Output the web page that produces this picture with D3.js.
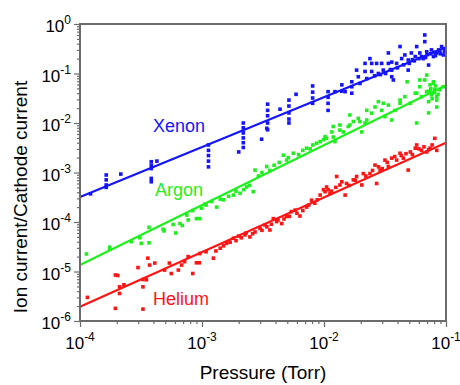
<!DOCTYPE html>
<html><head><meta charset="utf-8">
<script src="https://cdn.jsdelivr.net/npm/d3@7"></script>
<style>
body{margin:0;background:#fff;}
text{font-family:"Liberation Sans", Arial, Helvetica, sans-serif;}
</style>
</head><body>
<svg id="c" width="460" height="385"></svg>
<script>
// ---- data: [pressure (Torr), ion current / cathode current] ----
const xenon = [
[1.22e-4,3.7e-4],
[1.64e-4,8.9e-4],[1.64e-4,7.1e-4],[1.64e-4,5.6e-4],[1.64e-4,5.0e-4],
[2.16e-4,9.3e-4],
[3.84e-4,1.65e-3],[3.84e-4,1.4e-3],[3.84e-4,1.2e-3],[3.84e-4,7.6e-4],[3.84e-4,6.5e-4],[4.27e-4,1.7e-3],
[1.13e-3,3.6e-3],[1.13e-3,2.8e-3],[1.13e-3,2.2e-3],[1.13e-3,1.7e-3],[1.13e-3,1.3e-3],
[2.18e-3,1.0e-2],[2.18e-3,8.0e-3],[2.18e-3,6.3e-3],[2.18e-3,5.0e-3],[2.18e-3,4.0e-3],[2.18e-3,3.2e-3],[2.0e-3,2.6e-3],
[3.08e-3,4.7e-3],[3.4e-3,7.8e-3],
[3.45e-3,2.4e-2],[3.45e-3,1.8e-2],[3.45e-3,1.4e-2],[3.45e-3,1.0e-2],[3.45e-3,7.3e-3],
[4.36e-3,1.9e-2],
[5.16e-3,2.9e-2],[5.16e-3,2.2e-2],[5.16e-3,1.6e-2],[5.16e-3,1.2e-2],[5.16e-3,1.0e-2],
[5.9e-3,3.8e-2],
[8.07e-3,5.6e-2],[8.07e-3,4.2e-2],[8.07e-3,3.2e-2],[8.07e-3,2.5e-2],
[1.08e-2,4.3e-2],[1.08e-2,3.3e-2],[1.08e-2,2.5e-2],[1.08e-2,1.8e-2],
[1.23e-2,4.3e-2],[1.4e-2,5.9e-2],[1.4e-2,4.4e-2],[1.49e-2,4.3e-2],
[1.69e-2,6.8e-2],[1.69e-2,5.4e-2],[1.69e-2,4.0e-2],
[1.85e-2,0.117],[1.91e-2,8.6e-2],[1.97e-2,6.3e-2],
[2.17e-2,0.16],[2.17e-2,0.11],[2.24e-2,7.9e-2],
[2.38e-2,0.2],[2.46e-2,0.16],[2.46e-2,0.11],[2.6e-2,0.09],[2.9e-2,0.095],
[2.7e-2,0.16],[2.79e-2,0.1],[2.97e-2,0.16],[3.06e-2,0.117],[3.2e-2,0.1],[3.5e-2,0.12],
[3.37e-2,0.26],[3.37e-2,0.16],[3.59e-2,0.17],[3.59e-2,0.117],[3.59e-2,8.6e-2],[3.7e-2,7.4e-2],
[3.94e-2,0.16],[4.0e-2,0.13],[4.2e-2,0.35],[4.33e-2,0.2],[4.5e-2,0.15],[4.6e-2,0.237],[4.9e-2,0.187],[4.9e-2,0.117],
[5.0e-2,0.16],[5.2e-2,0.26],[5.5e-2,0.18],[5.6e-2,0.22],[5.75e-2,0.35],[6.0e-2,0.2],[6.1e-2,0.26],[6.3e-2,0.22],
[6.5e-2,0.2],[6.7e-2,0.6],[6.7e-2,0.44],[6.95e-2,0.275],[7.0e-2,0.24],[7.2e-2,0.148],[7.5e-2,0.25],
[7.6e-2,0.3],[7.9e-2,0.22],[8.0e-2,0.27],[8.4e-2,0.26],[8.7e-2,0.3],[8.9e-2,0.275],[9.0e-2,0.25],[9.2e-2,0.35],[9.5e-2,0.237],
[9.7e-2,0.28],[9.8e-2,0.31],[8.2e-2,0.23],[6.8e-2,0.21],[5.3e-2,0.19]
];
const argon = [
[1.13e-4,2.26e-5],[1.75e-4,3.1e-5],[1.75e-4,2.8e-5],[2.63e-4,4.0e-5],[3.09e-4,4.8e-5],[3.18e-4,3.7e-5],
[3.68e-4,7.8e-5],[3.68e-4,3.8e-5],[4.89e-4,6.6e-5],[4.8e-4,7.1e-5],[5.8e-4,8.9e-5],[6.1e-4,6.0e-5],
[6.6e-4,9.3e-5],[6.9e-4,8.5e-5],[7.5e-4,1.38e-4],[7.7e-4,1.1e-4],[8.4e-4,1.7e-4],[9.0e-4,1.17e-4],
[9.6e-4,1.17e-4],[9.9e-4,1.9e-4],[1.06e-3,2.3e-4],[1.08e-3,2.2e-4],[1.2e-3,2.6e-4],[1.32e-3,2.0e-4],
[1.41e-3,2.9e-4],[1.5e-3,2.8e-4],[1.65e-3,3.3e-4],[1.81e-3,3.5e-4],[1.9e-3,4.2e-4],[2.05e-3,3.8e-4],
[2.2e-3,4.5e-4],[2.32e-3,5.1e-4],[2.45e-3,5.5e-4],[2.63e-3,4.1e-4],[2.72e-3,1.12e-3],[2.9e-3,8.5e-4],
[3.1e-3,1.0e-3],[3.39e-3,1.32e-3],[3.6e-3,1.1e-3],[3.9e-3,1.4e-3],[4.3e-3,1.6e-3],[4.65e-3,2.24e-3],
[4.94e-3,1.78e-3],[5.1e-3,2.0e-3],[5.6e-3,2.45e-3],[6.2e-3,2.3e-3],[6.7e-3,2.8e-3],[7.2e-3,3.1e-3],
[7.7e-3,3.0e-3],[8.1e-3,3.6e-3],[8.7e-3,3.9e-3],[9.3e-3,4.2e-3],[9.9e-3,4.6e-3],[1.02e-2,5.3e-3],
[1.05e-2,4.9e-3],[1.16e-2,6.6e-3],[1.19e-2,5.2e-3],[1.19e-2,8.5e-3],[1.23e-2,4.2e-3],[1.35e-2,7.2e-3],
[1.35e-2,9.1e-3],[1.44e-2,6.6e-3],[1.58e-2,8.5e-3],[1.63e-2,9.1e-3],[1.63e-2,1.45e-2],[1.74e-2,1.07e-2],
[1.91e-2,1.24e-2],[1.97e-2,1.07e-2],[2.04e-2,6.6e-3],[2.17e-2,1.0e-2],[2.24e-2,1.15e-2],[2.24e-2,1.8e-2],
[2.46e-2,1.58e-2],[2.62e-2,2.1e-2],[2.79e-2,2.7e-2],[2.97e-2,1.8e-2],[3.06e-2,2.5e-2],[3.16e-2,1.35e-2],
[3.37e-2,2.3e-2],[3.59e-2,1.15e-2],[3.82e-2,1.8e-2],[4.2e-2,2.5e-2],[4.2e-2,2.9e-2],[4.6e-2,3.4e-2],
[4.8e-2,6.8e-2],[5.1e-2,2.5e-2],[5.6e-2,4.0e-2],[5.75e-2,4.0e-2],[5.75e-2,1.0e-2],[6.1e-2,5.4e-2],
[6.1e-2,7.4e-2],[6.3e-2,3.4e-2],[6.7e-2,7.4e-2],[6.95e-2,9.3e-2],[6.95e-2,4.3e-2],[7.2e-2,2.7e-2],
[7.2e-2,1.6e-2],[7.4e-2,5.9e-2],[7.6e-2,3.7e-2],[7.9e-2,6.8e-2],[7.9e-2,6.3e-2],[8.1e-2,4.7e-2],
[8.4e-2,2.9e-2],[8.4e-2,2.1e-2],[8.4e-2,3.4e-2],[8.9e-2,4.7e-2],[9.5e-2,5.4e-2],
[7.5e-2,4.9e-2],[7.7e-2,3.1e-2],[8.0e-2,4.1e-2],[8.6e-2,3.8e-2],[8.2e-2,5.6e-2],[7.3e-2,4.4e-2]
];
const helium = [
[1.15e-4,3.0e-6],[1.95e-4,1.8e-6],[1.95e-4,8.5e-6],[2.04e-4,8.3e-6],[2.11e-4,4.9e-6],[2.11e-4,3.6e-6],
[2.29e-4,5.4e-6],[2.99e-4,1.2e-5],[3.28e-4,6.9e-6],[3.28e-4,4.9e-6],[3.28e-4,1.74e-6],[3.5e-4,6.8e-6],
[3.6e-4,1.86e-5],[3.72e-4,1.35e-5],[4.1e-4,1.48e-5],[4.94e-4,1.07e-5],[5.4e-4,1.48e-5],[5.6e-4,9.1e-6],
[6.4e-4,1.07e-5],[6.8e-4,1.35e-5],[7.2e-4,1.58e-5],[7.7e-4,2.0e-5],[8.4e-4,9.1e-6],[9.0e-4,1.5e-5],
[9.5e-4,1.5e-5],[9.6e-4,2.3e-5],[1.08e-3,2.5e-5],[1.24e-3,1.86e-5],[1.3e-3,2.6e-5],[1.41e-3,2.95e-5],
[1.5e-3,3.3e-5],[1.59e-3,3.7e-5],[1.7e-3,3.9e-5],[1.81e-3,4.7e-5],[1.9e-3,4.2e-5],[2.0e-3,5.2e-5],
[2.1e-3,4.8e-5],[2.25e-3,5.5e-5],[2.3e-3,6.0e-5],[2.47e-3,5.0e-5],[2.6e-3,5.8e-5],[2.72e-3,6.3e-5],
[2.99e-3,7.4e-5],[3.1e-3,6.8e-5],[3.28e-3,8.7e-5],[3.4e-3,8.0e-5],[3.6e-3,6.9e-5],[3.7e-3,9.0e-5],
[3.84e-3,1.17e-4],[4.09e-3,1.02e-4],[4.2e-3,1.1e-4],[4.5e-3,9.3e-5],[4.7e-3,1.15e-4],[4.94e-3,1.29e-4],
[5.2e-3,1.3e-4],[5.4e-3,1.62e-4],[5.8e-3,1.74e-4],[6.0e-3,1.5e-4],[6.35e-3,1.32e-4],[6.7e-3,1.7e-4],
[7.2e-3,2.0e-4],[7.5e-3,2.2e-4],[7.9e-3,2.75e-4],[8.4e-3,2.4e-4],[8.8e-3,2.8e-4],[9.3e-3,3.5e-4],
[9.9e-3,4.5e-4],[1.02e-2,4.1e-4],[1.05e-2,5.1e-4],[1.08e-2,4.5e-4],[1.12e-2,3.8e-4],[1.15e-2,4.2e-4],
[1.25e-2,5.0e-4],[1.27e-2,8.3e-4],[1.35e-2,5.6e-4],[1.4e-2,6.5e-4],[1.49e-2,3.5e-4],[1.53e-2,6.0e-4],
[1.6e-2,5.5e-4],[1.74e-2,7.1e-4],[1.8e-2,7.0e-4],[1.85e-2,8.3e-4],[2.04e-2,5.6e-4],[2.1e-2,9.5e-4],
[2.2e-2,8.5e-4],[2.38e-2,9.5e-4],[2.5e-2,1.1e-3],[2.62e-2,1.41e-3],[2.7e-2,6.0e-4],[2.8e-2,1.3e-3],
[2.88e-2,1.12e-3],[3.0e-2,1.2e-3],[3.16e-2,1.78e-3],[3.3e-2,1.6e-3],[3.37e-2,1.32e-3],[3.59e-2,1.95e-3],
[3.8e-2,2.1e-3],[3.94e-2,1.78e-3],[4.2e-2,2.45e-3],[4.3e-2,2.2e-3],[4.47e-2,1.95e-3],[4.7e-2,2.4e-3],
[4.9e-2,1.12e-3],[5.1e-2,2.6e-3],[5.3e-2,2.3e-3],[5.6e-2,3.1e-3],[5.75e-2,3.6e-3],[6.0e-2,3.0e-3],
[6.3e-2,2.8e-3],[6.6e-2,3.3e-3],[6.95e-2,2.6e-3],[7.2e-2,2.9e-3],[7.4e-2,3.1e-3],[7.7e-2,3.6e-3],
[8.1e-2,4.9e-3],[8.4e-2,2.8e-3]
];
// fitted power-law lines, end points [pressure, ratio]
const xenonFit  = [[1e-4,3.2e-4],[1e-1,0.34]];
const argonFit  = [[1e-4,1.35e-5],[1e-1,0.058]];
const heliumFit = [[1e-4,1.95e-6],[1e-1,4.0e-3]];
const seriesNames = ["Xenon","Argon","Helium"];
const xTickExps = [-4,-3,-2,-1];
const yTickExps = [-6,-5,-4,-3,-2,-1,0];

// ---- layout ----
const colors = {Xenon:"#1414ff", Argon:"#1ef01e", Helium:"#ff1414"};
const L=80, R=446, T=24, B=321;
const svg = d3.select("#c");
const x = d3.scaleLog().domain([1e-4,1e-1]).range([L,R]);
const y = d3.scaleLog().domain([1e-6,1]).range([B,T]);

const majX = xTickExps.map(e=>Math.pow(10,e));
const majY = yTickExps.map(e=>Math.pow(10,e));
const minor = (exps)=>{const a=[];for(let i=0;i<exps.length-1;i++)for(let k=2;k<=9;k++)a.push(k*Math.pow(10,exps[i]));return a;};

const axisColor="#6b6b6b";
function styleAxis(g){g.select(".domain").remove();g.selectAll("line").attr("stroke",axisColor).attr("stroke-width",1.2);}
svg.append("g").attr("transform",`translate(0,${B})`).call(d3.axisBottom(x).tickValues(minor(xTickExps)).tickSize(3).tickFormat("")).call(styleAxis);
svg.append("g").attr("transform",`translate(0,${B})`).call(d3.axisBottom(x).tickValues(majX).tickSize(6).tickFormat("")).call(styleAxis);
svg.append("g").attr("transform",`translate(${L},0)`).call(d3.axisLeft(y).tickValues(minor(yTickExps)).tickSize(3).tickFormat("")).call(styleAxis);
svg.append("g").attr("transform",`translate(${L},0)`).call(d3.axisLeft(y).tickValues(majY).tickSize(6).tickFormat("")).call(styleAxis);

// tick labels
xTickExps.forEach(e=>{
  const t=svg.append("text").attr("x",x(Math.pow(10,e))).attr("y",B+28).attr("text-anchor","middle").attr("font-size",17).attr("fill","#000");
  t.append("tspan").text("10");
  t.append("tspan").attr("dy",-8).attr("font-size",12).text(e===0?"0":"-"+Math.abs(e));
});
yTickExps.forEach(e=>{
  const t=svg.append("text").attr("x",71).attr("y",y(Math.pow(10,e))+8).attr("text-anchor","end").attr("font-size",17).attr("fill","#000");
  t.append("tspan").text("10");
  t.append("tspan").attr("dy",-8).attr("font-size",12).text(e===0?"0":"-"+Math.abs(e));
});

// data
const data = {Xenon:xenon, Argon:argon, Helium:helium};
const fits = {Xenon:xenonFit, Argon:argonFit, Helium:heliumFit};
const line = d3.line().x(d=>x(d[0])).y(d=>y(d[1]));
const plot = svg.append("g");
const ms = 3.6;
seriesNames.forEach(n=>{
  plot.append("g").selectAll("rect").data(data[n]).join("rect")
    .attr("x",d=>x(d[0])-ms/2).attr("y",d=>y(d[1])-ms/2).attr("width",ms).attr("height",ms)
    .attr("fill",colors[n]);
});
seriesNames.forEach(n=>{
  plot.append("path").datum(fits[n]).attr("d",line).attr("fill","none").attr("stroke",colors[n]).attr("stroke-width",2.2);
});

// frame
svg.append("rect").attr("x",L).attr("y",T).attr("width",R-L).attr("height",B-T)
  .attr("fill","none").attr("stroke",axisColor).attr("stroke-width",2);

// series labels
const labelPos = {Xenon:[153,132], Argon:[155,196], Helium:[153,305]};
seriesNames.forEach(n=>{
  svg.append("text").attr("x",labelPos[n][0]).attr("y",labelPos[n][1]).attr("font-size",18).attr("fill",colors[n]).text(n);
});

// axis titles
svg.append("text").attr("x",263).attr("y",379).attr("text-anchor","middle").attr("font-size",19).text("Pressure (Torr)");
svg.append("text").attr("transform","translate(27,197) rotate(-90)").attr("text-anchor","middle").attr("font-size",19).text("Ion current/Cathode current");
</script>
</body></html>
